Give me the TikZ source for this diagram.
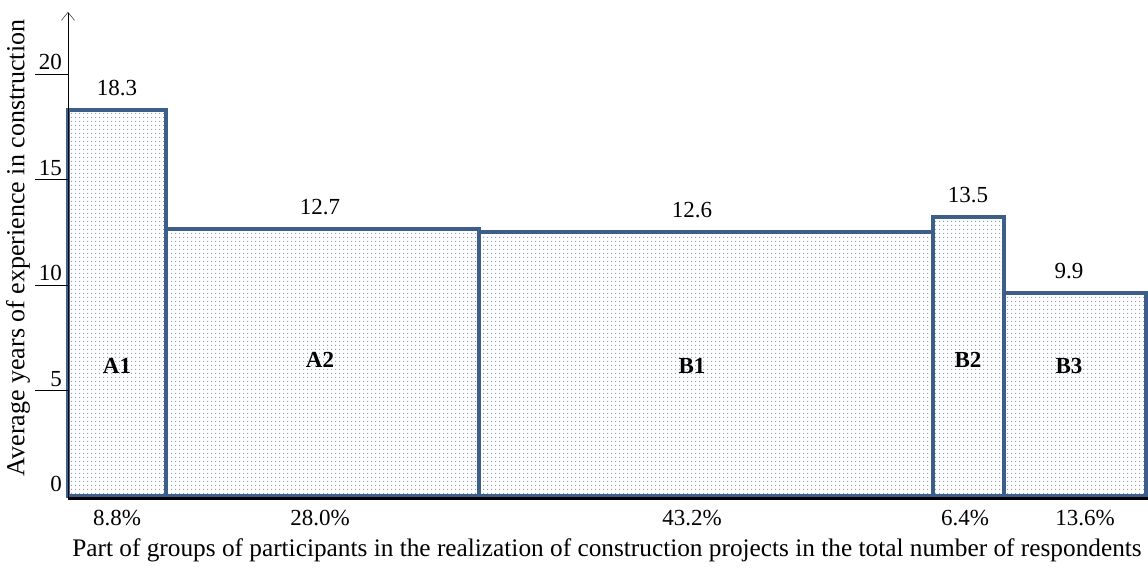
\documentclass[tikz,border=0pt]{standalone}
\usepackage{fontspec}
\setmainfont{Liberation Serif}
\usetikzlibrary{patterns.meta,arrows.meta}
\definecolor{barblue}{HTML}{3D5E88}
\begin{document}
\begin{tikzpicture}[x=1pt, y=1pt, font=\fontsize{23}{27}\selectfont,
  bar/.style={draw=barblue, line width=3.5pt, pattern={Dots[distance=4pt, radius=0.85pt]}, pattern color=barblue!65},
  barname/.style={font=\fontsize{23}{27}\selectfont\bfseries}]
\useasboundingbox (-68,-72) rectangle (1080,496);

% bars: left/right/height/label x/percent x/value/name/share
\foreach \xa/\xb/\h/\lx/\px/\val/\name/\pct/\ny in
  {0/98/386/49/49/18.3/A1/8.8/130,
   98/411/267/252/252/12.7/A2/28.0/136,
   411/865/264/624/624/12.6/B1/43.2/130,
   865/936/279/900/897/13.5/B2/6.4/136,
   936/1078/203/1001/1017/9.9/B3/13.6/130}
{
  \draw[bar] (\xa,0) rectangle (\xb,\h);
  \node (val\name) at (\lx,\h+22) {\val};
  \node[barname] (lab\name) at (\lx,\ny) {\name};
  \node (pct\name) at (\px,-22) {\pct\%};
}

% axes
\draw[line width=3pt] (0,-2) -- (1080,-2);
\draw[-{Straight Barb[length=8pt,width=13pt]}] (0,-1) -- (0,484);
\foreach \v in {0,5,10,15,20}
{
  \ifnum\v>0 \draw (-33,\v*21.1) -- (0,\v*21.1); \fi
  \node[anchor=south east, inner sep=1pt] (tick\v) at (-5,\v*21.1+3) {\v};
}

\node[rotate=90, font=\fontsize{26}{30}\selectfont, inner sep=0pt] (ytitle) at (-50,248) {Average years of experience in construction};
\node[font=\fontsize{25.3}{29}\selectfont] (xtitle) at (539,-54) {Part of groups of participants in the realization of construction projects in the total number of respondents};
\end{tikzpicture}
\end{document}
